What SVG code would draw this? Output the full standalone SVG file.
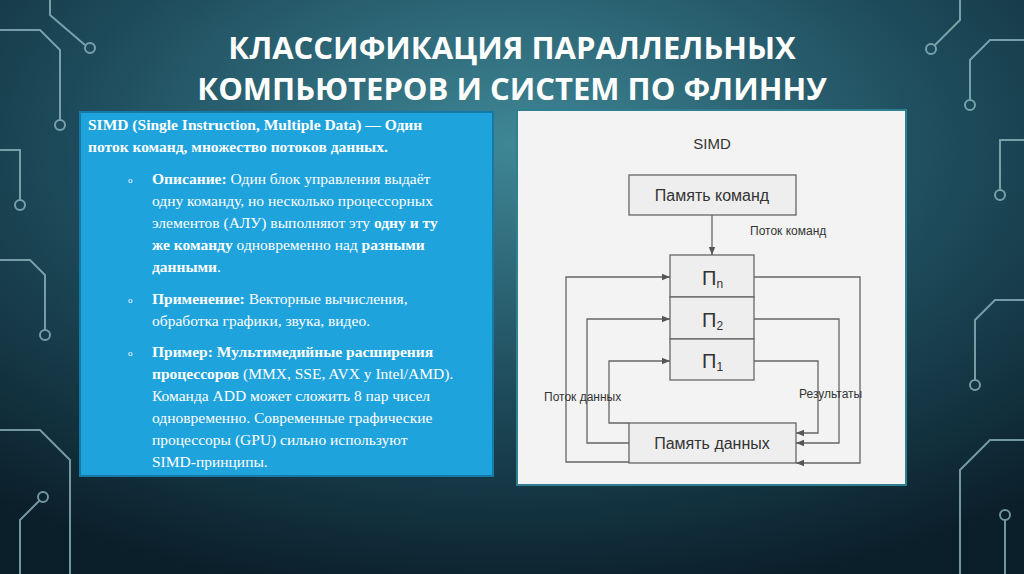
<svg xmlns="http://www.w3.org/2000/svg" width="1024" height="574" viewBox="0 0 1024 574">
<defs>
<radialGradient id="bg" cx="0.5" cy="0.25" r="0.8">
<stop offset="0" stop-color="#3f8796"/><stop offset="0.55" stop-color="#1d4a5a"/><stop offset="1" stop-color="#0b1f2a"/>
</radialGradient>
<marker id="ah" viewBox="0 0 10 10" refX="10" refY="5" markerWidth="8" markerHeight="8" orient="auto" markerUnits="userSpaceOnUse"><path d="M0,1 L10,5 L0,9 Z" fill="#555"/></marker>
</defs>
<style>
.t{font-family:"Open Sans","Liberation Sans",sans-serif;font-weight:bold;font-size:31px;fill:#fff}
.s{font-family:"Liberation Serif",serif;font-size:15.5px;fill:#fff}
.b{font-weight:bold}
.d{font-family:"Liberation Sans",Arial,sans-serif;fill:#333}
.box{fill:#eeeeee;stroke:#666;stroke-width:1.3}
.ln{fill:none;stroke:#666;stroke-width:1.3}
.cir{fill:none;stroke:#9fc7cf;stroke-width:2;opacity:.7}
</style>
<rect width="1024" height="574" fill="url(#bg)"/>
<g class="cir">
<path d="M0,30 H40 L60,50 V120"/><circle cx="60" cy="125" r="5"/>
<path d="M0,150 H20 V200"/><circle cx="20" cy="205" r="5"/>
<path d="M50,0 V15 L85,45"/><circle cx="90" cy="48" r="5"/>
<path d="M0,260 H30 L45,275 V330"/><circle cx="45" cy="335" r="5"/>
<path d="M0,430 H40 L70,460 V574"/><path d="M20,574 V520 L40,500"/><circle cx="43" cy="497" r="5"/>
<path d="M1024,40 H990 L970,60 V100"/><circle cx="970" cy="105" r="5"/>
<path d="M1024,140 H1000 V190"/><circle cx="1000" cy="195" r="5"/>
<path d="M960,0 V20 L935,45"/><circle cx="931" cy="49" r="5"/>
<path d="M1024,300 H995 L975,320 V380"/><circle cx="975" cy="385" r="5"/>
<path d="M1024,440 H990 L960,470 V574"/><path d="M1005,574 V520"/><circle cx="1005" cy="515" r="5"/>
</g>
<g id="title">
<text class="t" x="512" y="59" text-anchor="middle">КЛАССИФИКАЦИЯ ПАРАЛЛЕЛЬНЫХ</text>
<text class="t" x="512" y="100" text-anchor="middle">КОМПЬЮТЕРОВ И СИСТЕМ ПО ФЛИННУ</text>
</g>
<g id="textbox">
<rect x="80" y="112" width="413" height="364" fill="#1fa3dd" stroke="#167aa6" stroke-width="2"/>
<text class="s b" x="88" y="130">SIMD (Single Instruction, Multiple Data) — Один</text>
<text class="s b" x="88" y="152">поток команд, множество потоков данных.</text>
<g class="s" font-size="9"><text x="128" y="183" font-size="9">o</text><text x="128" y="303" font-size="9">o</text><text x="128" y="356" font-size="9">o</text></g>
<text class="s" x="152" y="184"><tspan class="b">Описание:</tspan> Один блок управления выдаёт</text>
<text class="s" x="152" y="206">одну команду, но несколько процессорных</text>
<text class="s" x="152" y="228">элементов (АЛУ) выполняют эту <tspan class="b">одну и ту</tspan></text>
<text class="s" x="152" y="250"><tspan class="b">же команду</tspan> одновременно над <tspan class="b">разными</tspan></text>
<text class="s" x="152" y="272"><tspan class="b">данными</tspan>.</text>
<text class="s" x="152" y="304"><tspan class="b">Применение:</tspan> Векторные вычисления,</text>
<text class="s" x="152" y="326">обработка графики, звука, видео.</text>
<text class="s" x="152" y="357"><tspan class="b">Пример: Мультимедийные расширения</tspan></text>
<text class="s" x="152" y="379"><tspan class="b">процессоров</tspan> (MMX, SSE, AVX у Intel/AMD).</text>
<text class="s" x="152" y="401">Команда ADD может сложить 8 пар чисел</text>
<text class="s" x="152" y="423">одновременно. Современные графические</text>
<text class="s" x="152" y="445">процессоры (GPU) сильно используют</text>
<text class="s" x="152" y="467">SIMD-принципы.</text>
</g>
<rect x="517" y="110" width="389" height="375" fill="#f3f3f3" stroke="#2e7f8f" stroke-width="2"/>
<text class="d" x="712" y="149" font-size="15" text-anchor="middle">SIMD</text>
<g id="cmdmem"><rect class="box" x="629" y="175" width="167" height="40"/><text class="d" x="712" y="201" font-size="16" text-anchor="middle">Память команд</text></g>
<g id="pn"><rect class="box" x="670" y="255" width="84" height="42"/><text class="d" x="702" y="285" font-size="20">П<tspan font-size="12" dy="3">n</tspan></text></g>
<g id="p2"><rect class="box" x="670" y="297" width="84" height="42"/><text class="d" x="702" y="327" font-size="20">П<tspan font-size="12" dy="3">2</tspan></text></g>
<g id="p1"><rect class="box" x="670" y="339" width="84" height="41"/><text class="d" x="702" y="368" font-size="20">П<tspan font-size="12" dy="3">1</tspan></text></g>
<g id="datamem"><rect class="box" x="629" y="423" width="167" height="40"/><text class="d" x="712" y="449" font-size="16" text-anchor="middle">Память данных</text></g>
<g id="connectors">
<path class="ln" d="M712,215 V255" marker-end="url(#ah)"/>
<path class="ln" d="M629,462 H566 V277 H670" marker-end="url(#ah)"/>
<path class="ln" d="M629,443 H587 V319 H670" marker-end="url(#ah)"/>
<path class="ln" d="M629,423 H609 V361 H670" marker-end="url(#ah)"/>
<path class="ln" d="M754,277 H860 V463 H796" marker-end="url(#ah)"/>
<path class="ln" d="M754,319 H839 V443 H796" marker-end="url(#ah)"/>
<path class="ln" d="M754,361 H818 V433 H796" marker-end="url(#ah)"/>
</g>
<text class="d" x="750" y="235" font-size="12">Поток команд</text>
<text class="d" x="544" y="401" font-size="12">Поток данных</text>
<text class="d" x="799" y="398" font-size="12">Результаты</text>
</svg>
